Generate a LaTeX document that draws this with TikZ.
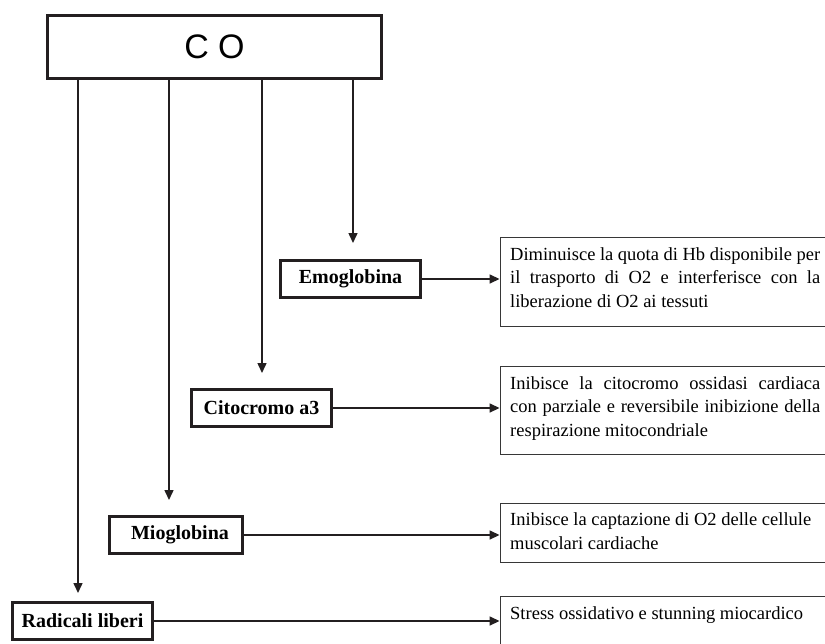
\documentclass[tikz,border=0pt]{standalone}
\usepackage{fontspec}
\setmainfont{Liberation Serif}
\newfontfamily\cofont{Liberation Sans}
\usetikzlibrary{arrows.meta}
\definecolor{ink}{RGB}{35,31,32}
\definecolor{boxline}{RGB}{55,55,55}
\newcommand{\jline}[1]{\makebox[310pt][s]{#1}}
\begin{document}
\begin{tikzpicture}[x=1pt,y=-1pt,
  cobox/.style={draw=ink, line width=3.2pt, minimum width=334pt, minimum height=63pt, inner sep=0pt,
    font=\cofont\fontsize{34}{36}\selectfont},
  labelbox/.style={draw=ink, line width=3pt, minimum height=37pt, inner sep=0pt,
    font=\bfseries\fontsize{20}{24}\selectfont},
  textbox/.style={draw=boxline, line width=0.9pt, inner sep=0pt},
  bodytext/.style={anchor=base west, inner sep=0pt, align=left,
    font=\fontsize{18.5}{23.5}\selectfont},
  conn/.style={draw=ink, line width=1.5pt, -{Triangle[length=10pt,width=9pt]}},
]
\clip (0,0) rectangle (825,643);
\fill[white] (0,0) rectangle (825,643);

% main box
\node[cobox] (co) at (214.5,47) {C O};

% label boxes
\node[labelbox, minimum width=140pt] (emo) at (350.5,279) {Emoglobina};
\node[labelbox, minimum width=140pt] (cito) at (261.5,408) {Citocromo a3};
\node[labelbox, minimum width=133pt] (mio) at (176,535) {\hspace*{8pt}Mioglobina};
\node[labelbox, minimum width=140pt] (rad) at (82.5,621) {Radicali liberi};

% text boxes
\node[textbox, minimum width=326pt, minimum height=89pt] (t1) at (663,282) {};
\node[textbox, minimum width=326pt, minimum height=88pt] (t2) at (663,410.5) {};
\node[textbox, minimum width=326pt, minimum height=59pt] (t3) at (663,533) {};
\node[textbox, minimum width=326pt, minimum height=70pt] (t4) at (663,631) {};

% texts (anchor = baseline of the last line)
\node[bodytext] (x1) at (510,307) {\jline{Diminuisce la quota di Hb disponibile per}\\
  \jline{il trasporto di O2 e interferisce con la}\\
  liberazione di O2 ai tessuti};
\node[bodytext] (x2) at (510,436) {\jline{Inibisce la citocromo ossidasi cardiaca}\\
  \jline{con parziale e reversibile inibizione della}\\
  respirazione mitocondriale};
\node[bodytext] (x3) at (510,549) {Inibisce la captazione di O2 delle cellule\\
  muscolari cardiache};
\node[bodytext] (x4) at (510,619) {Stress ossidativo e stunning miocardico};

% arrow tips of the vertical connectors
\coordinate (e1) at (353,243);
\coordinate (e2) at (262,373);
\coordinate (e3) at (169,500);
\coordinate (e4) at (78,593);

\draw[conn] (co.south -| e1) -- (e1);
\draw[conn] (co.south -| e2) -- (e2);
\draw[conn] (co.south -| e3) -- (e3);
\draw[conn] (co.south -| e4) -- (e4);

\draw[conn] (emo.east) -- (emo.east -| t1.west);
\draw[conn] (cito.east) -- (cito.east -| t2.west);
\draw[conn] (mio.east) -- (mio.east -| t3.west);
\draw[conn] (rad.east) -- (rad.east -| t4.west);
\end{tikzpicture}
\end{document}
